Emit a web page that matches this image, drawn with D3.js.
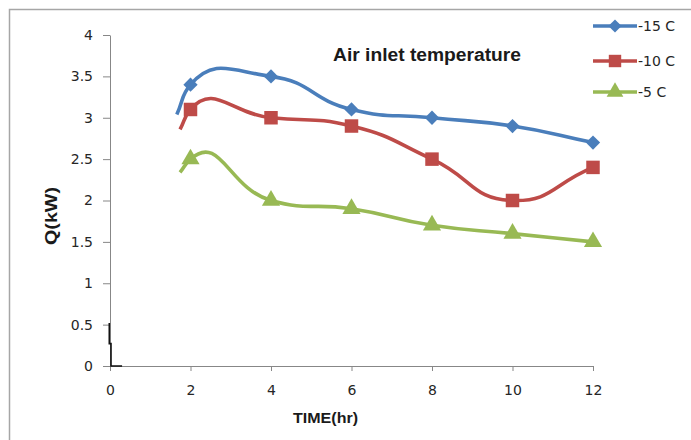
<!DOCTYPE html>
<html>
<head>
<meta charset="utf-8">
<script src="https://cdn.jsdelivr.net/npm/d3@7"></script>
<style>
  html, body { margin: 0; padding: 0; background: #fff; }
  svg { display: block; }
</style>
</head>
<body>
<svg id="chart" width="691" height="440"></svg>
<script>
// ---- data ----
const times = [2, 4, 6, 8, 10, 12];
const seriesNames = ["-15 C", "-10 C", "-5 C"];
const q15 = [3.4, 3.5, 3.1, 3.0, 2.9, 2.7];
const q10 = [3.1, 3.0, 2.9, 2.5, 2.0, 2.4];
const q5  = [2.5, 2.0, 1.9, 1.7, 1.6, 1.5];
// unmarked lead-in point of each smoothed curve
const leadTimes = [1.66, 1.74, 1.74];
const leadQ = [3.04, 2.86, 2.34];
const xTicks = [0, 2, 4, 6, 8, 10, 12];
const yTicks = [0, 0.5, 1, 1.5, 2, 2.5, 3, 3.5, 4];
const colors = ["#4A7EBB", "#BE4B48", "#98B954"];
const markers = ["diamond", "square", "triangle"];

const svg = d3.select("#chart");
const x = d3.scaleLinear().domain([0, 12]).range([110, 593]);
const y = d3.scaleLinear().domain([0, 4]).range([366, 35]);

// outer frame
svg.append("rect").attr("x", 9.5).attr("y", 9.5).attr("width", 800).attr("height", 800)
  .attr("fill", "none").attr("stroke", "#a6a6a6").attr("stroke-width", 1.5);

// axes
const yAxis = d3.axisLeft(y).tickValues(yTicks).tickSize(7).tickSizeOuter(0).tickPadding(10)
  .tickFormat(d => String(d));
const xAxis = d3.axisBottom(x).tickValues(xTicks).tickSize(5).tickSizeOuter(0).tickPadding(14)
  .tickFormat(d => String(d));

const gy = svg.append("g").attr("transform", `translate(${x(0)},0)`).call(yAxis);
const gx = svg.append("g").attr("transform", `translate(0,${y(0)})`).call(xAxis);
[gx, gy].forEach(g => {
  g.selectAll("path, line").attr("stroke", "#878787");
  g.selectAll("text").attr("font-family", "DejaVu Sans, Verdana, sans-serif")
    .attr("font-size", 14).attr("fill", "#262626");
});

// dark corner artefact near the origin
svg.append("path")
  .attr("d", `M${x(0) - 0.7},${y(0.52)} L${x(0) - 0.7},${y(0.27)} L${x(0) + 1},${y(0.27)} L${x(0) + 1},${y(0)} L${x(0.3)},${y(0)}`)
  .attr("fill", "none").attr("stroke", "#111").attr("stroke-width", 1.6);

// Excel-like smoothed line: chordal Hermite tangents, slightly loosened
function smoothPath(P, k) {
  const n = P.length;
  const d = [], u = [];
  for (let i = 0; i < n - 1; i++) {
    const dx = P[i + 1][0] - P[i][0], dy = P[i + 1][1] - P[i][1];
    const L = Math.hypot(dx, dy);
    d.push(L); u.push([dx / L, dy / L]);
  }
  const m = P.map((p, i) => {
    if (i === 0) return u[0];
    if (i === n - 1) return u[n - 2];
    const a = d[i - 1], b = d[i];
    return [(u[i - 1][0] * b + u[i][0] * a) / (a + b), (u[i - 1][1] * b + u[i][1] * a) / (a + b)];
  });
  const path = d3.path();
  path.moveTo(P[0][0], P[0][1]);
  for (let i = 0; i < n - 1; i++) {
    const s = d[i] / 3 * k;
    path.bezierCurveTo(P[i][0] + m[i][0] * s, P[i][1] + m[i][1] * s,
      P[i + 1][0] - m[i + 1][0] * s, P[i + 1][1] - m[i + 1][1] * s,
      P[i + 1][0], P[i + 1][1]);
  }
  return path.toString();
}

// series
const allQ = [q15, q10, q5];

function markerPath(type, size) {
  if (type === "diamond") return d3.symbol().type(d3.symbolDiamond2).size(size * 1.0)();
  if (type === "square") return d3.symbol().type(d3.symbolSquare).size(size * 1.4)();
  return d3.symbol().type(d3.symbolTriangle).size(size * 1.1)();
}

allQ.forEach((vals, i) => {
  const pts = [[leadTimes[i], leadQ[i]]].concat(times.map((t, j) => [t, vals[j]]));
  svg.append("path").attr("d", smoothPath(pts.map(p => [x(p[0]), y(p[1])]), 1.5))
    .attr("fill", "none").attr("stroke", colors[i]).attr("stroke-width", 3.6)
    .attr("stroke-linejoin", "round");
  svg.append("g").selectAll("path").data(times.map((t, j) => [t, vals[j]])).join("path")
    .attr("transform", d => `translate(${x(d[0])},${y(d[1])})`)
    .attr("d", markerPath(markers[i], 130))
    .attr("fill", colors[i]);
});

// legend
const legendY = [26, 61, 92];
seriesNames.forEach((name, i) => {
  const g = svg.append("g").attr("transform", `translate(0,${legendY[i]})`);
  g.append("line").attr("x1", 593).attr("x2", 637).attr("y1", 0).attr("y2", 0)
    .attr("stroke", colors[i]).attr("stroke-width", 3.6);
  g.append("path").attr("transform", "translate(615,0)").attr("d", markerPath(markers[i], 110))
    .attr("fill", colors[i]);
  g.append("text").attr("x", 638).attr("y", 5).text(name)
    .attr("font-family", "DejaVu Sans, Verdana, sans-serif").attr("font-size", 14).attr("fill", "#262626");
});

// title
svg.append("text").attr("x", 333).attr("y", 61).text("Air inlet temperature")
  .attr("font-family", "Liberation Sans, Arial, sans-serif").attr("font-weight", "bold")
  .attr("font-size", 18).attr("textLength", 188).attr("lengthAdjust", "spacingAndGlyphs")
  .attr("fill", "#1a1a1a");

// axis titles
svg.append("text").attr("x", 293).attr("y", 423).text("TIME(hr)")
  .attr("font-family", "Liberation Sans, Arial, sans-serif").attr("font-weight", "bold")
  .attr("font-size", 15).attr("textLength", 65).attr("lengthAdjust", "spacingAndGlyphs")
  .attr("fill", "#1a1a1a");
svg.append("text").attr("transform", "translate(57,245) rotate(-90)").text("Q(kW)")
  .attr("font-family", "Liberation Sans, Arial, sans-serif").attr("font-weight", "bold")
  .attr("font-size", 17).attr("textLength", 58).attr("lengthAdjust", "spacingAndGlyphs")
  .attr("fill", "#1a1a1a");
</script>
</body>
</html>
